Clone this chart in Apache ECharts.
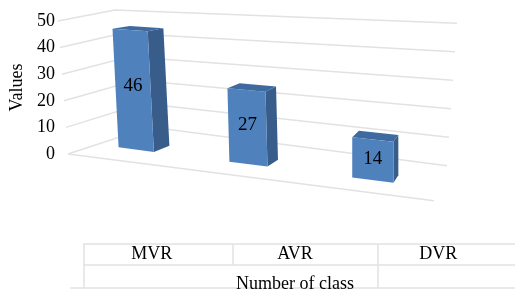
<!DOCTYPE html>
<html>
<head>
<meta charset="utf-8">
<script src="https://cdn.jsdelivr.net/npm/echarts@6/dist/echarts.min.js"></script>
<style>
  html, body { margin: 0; padding: 0; background: #fff; }
  #chart { width: 515px; height: 295px; }
</style>
</head>
<body>
<div id="chart"></div>
<script>
const categories = ['MVR', 'AVR', 'DVR']
const values = [46, 27, 14]
const yTicks = [0, 10, 20, 30, 40, 50]

const FONT = '"Liberation Serif", "Times New Roman", serif'
const GRID_COLOR = '#e2e2e2'

// rough perspective of the floor / walls, in px
const X0 = 68        // front-left corner of the floor
const Y0 = 154
const SPAN = 366     // width of the floor front edge
const SLOPE = 0.128  // slope of the floor front edge

function project (u, d, h, lean) {
  const t = (u - X0) / SPAN
  const dx = 82 - 69 * t
  const dy = -27 - 8 * t
  const kF = 1 + 0.15 * t
  const kB = 0.88 + 0.192 * t
  const hh = h * (kF * (1 - d) + kB * d)
  return [u + d * dx + lean * hh, Y0 + SLOPE * (u - X0) + d * dy - hh]
}

function renderWall (params, api) {
  const v = api.value(1)
  const h = api.coord([0, 0])[1] - api.coord([0, v])[1]
  const a = project(X0, 0, h, -0.075)
  const c = project(X0, 1, h, -0.3)
  const r = project(X0 + SPAN, 1, h, 0.07)
  const children = [{
    type: 'polyline',
    shape: { points: [a, c, r] },
    style: { stroke: GRID_COLOR, lineWidth: 1.5, fill: null }
  }]
  if (v === 0) {
    const f = project(X0 + SPAN, 0, 0, 0)
    children.push({
      type: 'line',
      shape: { x1: a[0], y1: a[1], x2: f[0], y2: f[1] },
      style: { stroke: GRID_COLOR, lineWidth: 1.5 }
    })
  }
  return { type: 'group', children: children }
}

function renderBar (params, api) {
  const i = api.value(0)
  const v = api.value(1)
  const top = api.coord([i, v])
  const base = api.coord([i, 0])
  const h = base[1] - top[1]
  const c0 = api.coord([0, 0])[0]
  const c2 = api.coord([2, 0])[0]
  const u = top[0] + 4.06e-4 * (top[0] - c0) * (top[0] - c2)
  const t = (u - X0) / SPAN
  const w = api.size([1, 0])[0] * 0.145 * (1 + 0.25 * t)
  const lean = Math.min(0, -0.06 * (1 - t / 0.8))
  const dF = 0.35
  const dB = 0.57
  const flb = project(u - w, dF, 0, lean)
  const frb = project(u + w, dF, 0, lean)
  const frt = project(u + w, dF, h, lean)
  const flt = project(u - w, dF, h, lean)
  const brb = project(u + w, dB, 0, lean)
  const brt = project(u + w, dB, h, lean)
  const blt = project(u - w, dB, h, lean)
  const mid = project(u, dF, h * 0.53, lean)
  return {
    type: 'group',
    children: [
      { type: 'polygon', shape: { points: [frb, brb, brt, frt] }, style: { fill: '#385d8a' } },
      { type: 'polygon', shape: { points: [flt, frt, brt, blt] }, style: { fill: '#3f6aa0' } },
      { type: 'polygon', shape: { points: [flb, frb, frt, flt] }, style: { fill: '#4f81bd' } },
      {
        type: 'text',
        style: {
          text: String(v), x: mid[0], y: mid[1],
          align: 'center', verticalAlign: 'middle',
          fill: '#000', font: '19px ' + FONT
        }
      }
    ]
  }
}

const chart = echarts.init(document.getElementById('chart'))

const option = {
  animation: false,
  backgroundColor: '#fff',
  grid: [
    { left: 62, top: 21, width: 385, height: 133 },
    { left: 47, top: 21, width: 380, height: 133 },
    { left: 80, top: 240, width: 430, height: 4 }
  ],
  xAxis: [
    { gridIndex: 0, type: 'value', min: 0, max: 1, show: false },
    { gridIndex: 1, type: 'category', data: categories, show: false },
    {
      gridIndex: 2,
      type: 'category',
      data: categories,
      axisLine: { show: false },
      axisTick: { show: false },
      axisLabel: { margin: 1, color: '#000', fontSize: 18, fontFamily: FONT },
      name: 'Number of class',
      nameLocation: 'middle',
      nameGap: 31,
      nameTextStyle: { color: '#000', fontSize: 18, fontFamily: FONT }
    }
  ],
  yAxis: [
    {
      gridIndex: 0,
      type: 'value',
      min: 0,
      max: 50,
      interval: 10,
      axisLine: { show: false },
      axisTick: { show: false },
      splitLine: { show: false },
      axisLabel: { margin: 9, color: '#000', fontSize: 18, fontFamily: FONT },
      name: 'Values',
      nameLocation: 'middle',
      nameRotate: 90,
      nameGap: 33,
      nameTextStyle: { color: '#000', fontSize: 18, fontFamily: FONT }
    },
    { gridIndex: 1, type: 'value', min: 0, max: 50, show: false },
    { gridIndex: 2, type: 'value', show: false }
  ],
  graphic: [
    { type: 'line', shape: { x1: 83, y1: 244, x2: 515, y2: 244 }, style: { stroke: GRID_COLOR, lineWidth: 1.5 } },
    { type: 'line', shape: { x1: 83, y1: 265, x2: 515, y2: 265 }, style: { stroke: GRID_COLOR, lineWidth: 1.5 } },
    { type: 'line', shape: { x1: 70, y1: 288, x2: 515, y2: 288 }, style: { stroke: GRID_COLOR, lineWidth: 1.5 } },
    { type: 'line', shape: { x1: 84, y1: 244, x2: 84, y2: 288 }, style: { stroke: GRID_COLOR, lineWidth: 1.5 } },
    { type: 'line', shape: { x1: 233, y1: 244, x2: 233, y2: 265 }, style: { stroke: GRID_COLOR, lineWidth: 1.5 } },
    { type: 'line', shape: { x1: 378, y1: 244, x2: 378, y2: 288 }, style: { stroke: GRID_COLOR, lineWidth: 1.5 } }
  ],
  series: [
    {
      type: 'custom',
      xAxisIndex: 0,
      yAxisIndex: 0,
      renderItem: renderWall,
      data: yTicks.map(v => [0, v]),
      silent: true,
      z: 1
    },
    {
      type: 'custom',
      xAxisIndex: 1,
      yAxisIndex: 1,
      renderItem: renderBar,
      data: values.map((v, i) => [i, v]),
      z: 3
    }
  ]
}

chart.setOption(option)
</script>
</body>
</html>
